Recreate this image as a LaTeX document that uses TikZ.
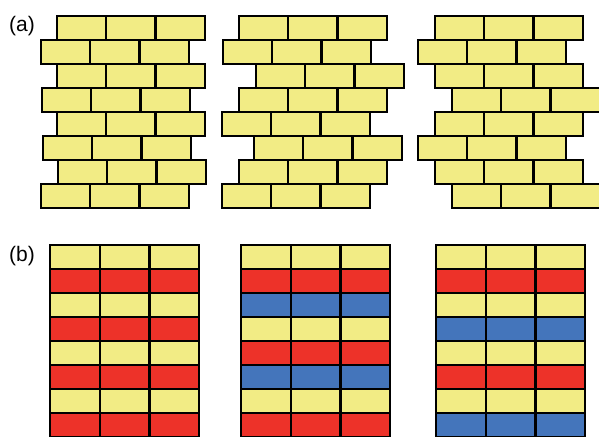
\documentclass[tikz,border=0pt]{standalone}
\usepackage{fontspec}
\setmainfont{Liberation Sans}
\definecolor{brickyellow}{RGB}{242,236,133}
\definecolor{brickred}{RGB}{237,50,41}
\definecolor{brickblue}{RGB}{68,117,187}
\usetikzlibrary{positioning}

\begin{document}
\begin{tikzpicture}[
  x=1pt, y=-1pt,
  brick/.style={draw=black, line width=2.3pt, fill=brickyellow},
  tag/.style={font=\fontsize{21}{24}\selectfont, inner sep=0pt}
]
  \useasboundingbox (0,0) rectangle (599,436);
  \clip (0,0) rectangle (599,436);

  \node[tag] (taga) at (22,26) {(a)};
  \node[tag] (tagb) at (22,256) {(b)};

  % (a) staggered walls, left edge of each course
  \foreach \xa [count=\r from 0] in {57,41,57,42,57,43,58,41}
    \foreach \c in {0,1,2}
      \draw[brick] (\xa+\c*49.3, 16+\r*24) rectangle ++(49.3,24);
  \foreach \xa [count=\r from 0] in {239,223,256,239,222,254,239,222}
    \foreach \c in {0,1,2}
      \draw[brick] (\xa+\c*49.3, 16+\r*24) rectangle ++(49.3,24);
  \foreach \xa [count=\r from 0] in {435,418,435,452,435,418,435,452}
    \foreach \c in {0,1,2}
      \draw[brick] (\xa+\c*49.3, 16+\r*24) rectangle ++(49.3,24);

  % (b) stacked courses, colour of each course
  \foreach \xb/\courses in {
      50/{brickyellow,brickred,brickyellow,brickred,brickyellow,brickred,brickyellow,brickred},
      241/{brickyellow,brickred,brickblue,brickyellow,brickred,brickblue,brickyellow,brickred},
      436/{brickyellow,brickred,brickyellow,brickblue,brickyellow,brickred,brickyellow,brickblue}}
    \foreach \fc [count=\r from 0] in \courses
      \foreach \c in {0,1,2}
        \draw[brick, fill=\fc] (\xb+\c*49.7, 245+\r*24) rectangle ++(49.7,24);
\end{tikzpicture}
\end{document}
